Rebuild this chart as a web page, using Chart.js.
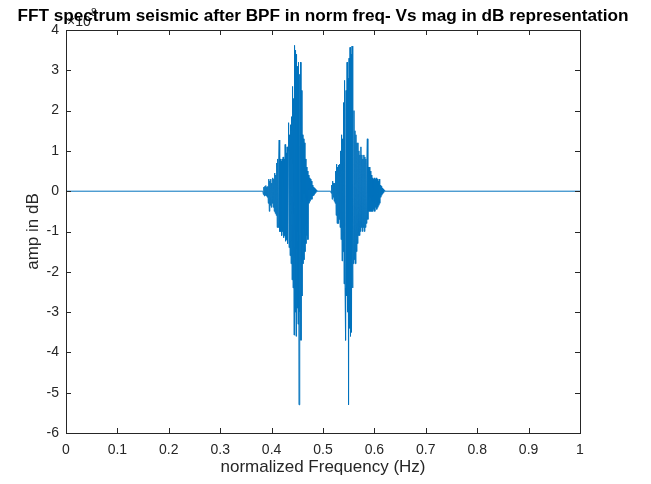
<!DOCTYPE html>
<html>
<head>
<meta charset="utf-8">
<script src="https://cdn.jsdelivr.net/npm/chart.js@4.4.1/dist/chart.umd.min.js"></script>
<style>
html,body{margin:0;padding:0;background:#fff;}
#wrap{width:651px;height:484px;position:relative;}
</style>
</head>
<body>
<div id="wrap"><canvas id="c" width="651" height="484"></canvas></div>
<script>
// ---- data (amplitudes in units of 1e8) ----
const titleText = "FFT spectrum seismic after BPF in norm freq- Vs mag in dB representation";
const xLabel = "normalized Frequency (Hz)";
const yLabel = "amp in dB";
const yExponent = "8";
const xTicks = [0,0.1,0.2,0.3,0.4,0.5,0.6,0.7,0.8,0.9,1];
const yTicks = [-6,-5,-4,-3,-2,-1,0,1,2,3,4];

const leftLobeStart = 0.383, leftLobeEnd = 0.488;
const leftLobeAmp = [
 0,-0.08,0.1,-0.12,0.12,-0.1,0.14,-0.12,0.1,-0.15,
 0.12,-0.3,0.3,-0.5,0.25,-0.35,0.3,-0.4,0.2,-0.3,
 0.33,-0.4,0.3,-0.5,0.45,-0.55,0.4,-0.6,0.7,-0.9,
 0.8,-0.9,0.7,1.27,-1.0,0.8,-1.0,0.75,-1.1,0.8,
 -1.0,0.85,-1.15,0.8,-1.1,1.16,-1.24,0.95,-1.2,1.1,
 -1.3,1.0,1.7,-1.4,1.4,-1.6,1.65,-1.8,1.85,-2.2,
 2.6,-2.4,2.3,-3.57,3.62,-3.0,3.5,-3.6,3.4,-2.9,
 3.1,-3.3,3.2,-5.3,2.9,-3.0,3.2,-3.7,2.5,-2.6,
 1.4,-1.8,1.3,-1.7,1.2,-1.5,0.8,-1.3,0.6,-1.1,
 0.5,-1.2,0.4,-0.3,0.33,-0.25,0.3,-0.2,0.25,-0.2,
 0.15,-0.12,0.1,-0.1,0.08,-0.06,0.05,-0.03,0.02,0
];
const rightLobeStart = 0.515, rightLobeEnd = 0.62;
const rightLobeAmp = [
 0,-0.05,0.15,-0.2,0.25,-0.15,0.2,-0.25,0.2,-0.3,
 0.5,-0.6,0.67,-0.8,0.6,-0.8,0.65,-0.7,0.67,-0.9,
 1.0,-1.2,1.4,-1.73,1.3,-1.5,2.2,-2.3,2.75,-2.4,
 -3.7,2.5,-2.6,3.2,-3.0,2.8,-5.3,3.3,-3.4,3.57,
 -3.6,3.4,-3.5,3.6,-2.4,1.8,-1.8,2.0,-1.7,1.5,
 -1.8,1.4,-1.5,1.2,-1.3,1.2,-1.1,1.0,-1.1,0.9,
 -1.0,1.1,-0.9,0.9,-1.0,0.8,-0.9,0.9,-1.0,0.85,
 -0.9,0.8,-0.8,0.7,1.3,-0.7,0.6,-0.5,0.6,-0.5,
 0.5,-0.5,0.4,-0.5,0.33,-0.5,0.3,-0.45,0.33,-0.5,
 0.3,-0.4,0.33,-0.45,0.3,-0.4,0.25,-0.35,0.3,-0.3,
 0.15,-0.15,0.12,-0.1,0.08,-0.06,0.05,-0.03,0.02,0
];

// ---- build points (bins evenly spaced across each lobe) ----
function lobePoints(start, end, amps){
  const n = amps.length;
  return amps.map((a,i)=>({x: start + (end-start)*i/(n-1), y: a}));
}
const points = [{x:0,y:0}]
  .concat(lobePoints(leftLobeStart, leftLobeEnd, leftLobeAmp))
  .concat(lobePoints(rightLobeStart, rightLobeEnd, rightLobeAmp))
  .concat([{x:1,y:0}]);

const AX = '#262626';
const FONT = '"Liberation Sans", Arial, sans-serif';

const framePlugin = {
  id:'frame',
  afterDraw(chart){
    const {ctx, chartArea:a, scales} = chart;
    ctx.save();
    ctx.strokeStyle = AX; ctx.lineWidth = 1;
    ctx.strokeRect(Math.round(a.left)+0.5, Math.round(a.top)+0.5, Math.round(a.right-a.left), Math.round(a.bottom-a.top));
    const tl = 5;
    ctx.beginPath();
    xTicks.forEach(v=>{
      const px = Math.round(scales.x.getPixelForValue(v))+0.5;
      ctx.moveTo(px, a.bottom); ctx.lineTo(px, a.bottom-tl);
      ctx.moveTo(px, a.top); ctx.lineTo(px, a.top+tl);
    });
    yTicks.forEach(v=>{
      const py = Math.round(scales.y.getPixelForValue(v))+0.5;
      ctx.moveTo(a.left, py); ctx.lineTo(a.left+tl, py);
      ctx.moveTo(a.right, py); ctx.lineTo(a.right-tl, py);
    });
    ctx.stroke();
    // axis titles
    ctx.fillStyle = AX;
    ctx.font = '17px ' + FONT;
    ctx.textAlign = 'center'; ctx.textBaseline = 'middle';
    ctx.fillText(xLabel, (a.left+a.right)/2, 467);
    ctx.save();
    ctx.translate(33, (a.top+a.bottom)/2);
    ctx.rotate(-Math.PI/2);
    ctx.fillText(yLabel, 0, 0);
    ctx.restore();
    // exponent
    ctx.font = '14px ' + FONT;
    ctx.textAlign = 'left'; ctx.textBaseline = 'alphabetic';
    ctx.fillText('\u00d710', a.left+1, a.top-4);
    ctx.font = '10px ' + FONT;
    ctx.fillText(yExponent, a.left+25, a.top-14);
    // title
    ctx.fillStyle = '#000';
    ctx.font = 'bold 17.2px ' + FONT;
    ctx.textAlign = 'center'; ctx.textBaseline = 'middle';
    ctx.fillText(titleText, 323, 16);
    ctx.restore();
  }
};

new Chart(document.getElementById('c'), {
  type:'line',
  data:{ datasets:[{ data: points, borderColor:'#0072BD', borderWidth:1, pointRadius:0, tension:0, fill:false }]},
  options:{
    responsive:false, animation:false, parsing:true,
    layout:{ padding:{ top:30, right:71, left:0, bottom:0 } },
    plugins:{ legend:{display:false}, tooltip:{enabled:false}, title:{display:false} },
    scales:{
      x:{ type:'linear', min:0, max:1,
          afterBuildTicks(s){ s.ticks = xTicks.map(v=>({value:v})); },
          afterFit(s){ s.height = 51; },
          grid:{display:false, drawTicks:false}, border:{display:false},
          ticks:{ color:AX, font:{family:FONT, size:14}, padding:9, maxRotation:0,
                  callback:(v)=>String(Number(v.toFixed(1))) } },
      y:{ type:'linear', min:-6, max:4,
          afterBuildTicks(s){ s.ticks = yTicks.map(v=>({value:v})); },
          afterFit(s){ s.width = 66; },
          grid:{display:false, drawTicks:false}, border:{display:false},
          ticks:{ color:AX, font:{family:FONT, size:14}, padding:7,
                  callback:(v)=>String(v) } }
    }
  },
  plugins:[framePlugin]
});
</script>
</body>
</html>
